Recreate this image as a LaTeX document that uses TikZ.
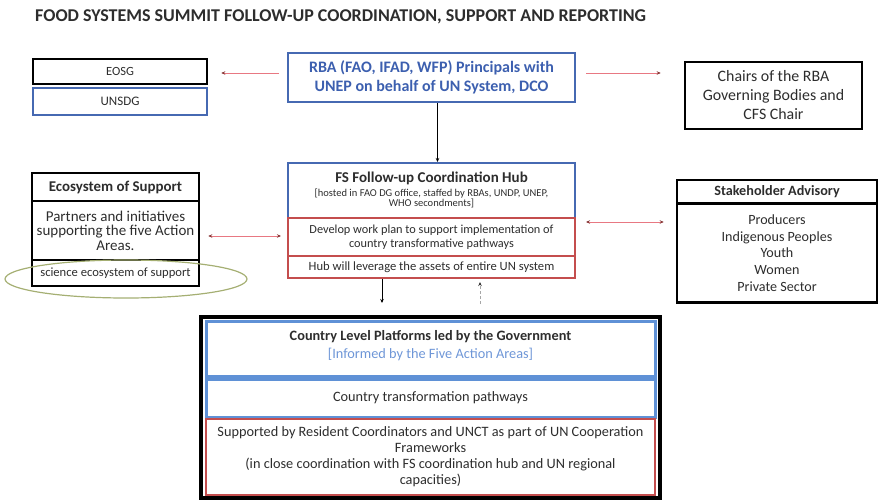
\documentclass[tikz,border=0pt]{standalone}
\usepackage{fontspec}
\setmainfont{Carlito}
\usetikzlibrary{arrows.meta,calc}
\definecolor{bluebd}{RGB}{70,105,178}
\definecolor{cblue}{RGB}{95,145,214}
\definecolor{redbd}{RGB}{196,78,78}
\definecolor{arrred}{RGB}{232,120,130}
\definecolor{olive}{RGB}{165,175,115}
\definecolor{txt}{RGB}{45,45,45}
\definecolor{rbatxt}{RGB}{60,95,175}
\definecolor{infotxt}{RGB}{110,150,215}
\begin{document}
\begin{tikzpicture}[x=1pt,y=-1pt,
  bx/.style={draw, line width=2pt, align=center, inner sep=0pt, text=txt},
  blk/.style={bx, draw=black, line width=2.5pt},
  blu/.style={bx, draw=bluebd},
  rd/.style={bx, draw=redbd},
  fbody/.style={font=\fontsize{14.3}{16}\selectfont},
  fhead/.style={font=\bfseries\fontsize{14.2}{15}\selectfont},
  redarr/.style={draw=arrred, line width=0.8pt, -{Stealth[length=4pt,width=3.5pt,color=redbd!70!black]}},
  redboth/.style={draw=arrred, line width=0.8pt, {Stealth[length=4pt,width=3.5pt,color=redbd!70!black]}-{Stealth[length=4pt,width=3.5pt,color=redbd!70!black]}},
  blkarr/.style={draw=black, line width=0.8pt, -{Stealth[length=4pt,width=3.5pt]}},
  grayarr/.style={draw=gray!70, line width=0.8pt, densely dashed, -{Stealth[length=4pt,width=3.5pt,color=black!80]}}
]
\useasboundingbox (0,0) rectangle (879,501);

% title
\node[anchor=west, inner sep=0pt, font=\bfseries\fontsize{18}{20}\selectfont, text=txt] (title) at (35,17)
  {FOOD SYSTEMS SUMMIT FOLLOW-UP COORDINATION, SUPPORT AND REPORTING};

% top row
\node[blk, minimum width=174pt, minimum height=25pt, font=\fontsize{12.5}{13}\selectfont] (eosg) at (120,71.5) {EOSG};
\node[blu, line width=2.5pt, minimum width=174pt, minimum height=27pt, font=\fontsize{13}{13}\selectfont] (unsdg) at (120,101.5) {UNSDG};
\node[blu, minimum width=287pt, minimum height=49pt, text=rbatxt, font=\bfseries\fontsize{16}{19}\selectfont] (rba) at (431.5,77.5)
  {RBA (FAO, IFAD, WFP) Principals with\\UNEP on behalf of UN System, DCO};
\node[blk, minimum width=177pt, minimum height=67pt, font=\fontsize{15.9}{19}\selectfont] (chairs) at (773.5,95.5)
  {Chairs of the RBA\\Governing Bodies and\\CFS Chair};

\draw[redarr] ($(rba.west)+(-8,-4.5)$) -- ($(rba.west -| eosg.east)+(13,-4.5)$);
\draw[redarr] ($(rba.east)+(10,-4.5)$) -- ($(rba.east -| chairs.west)+(-23,-4.5)$);

% hub
\node[blu, minimum width=287pt, minimum height=55pt] (hubA) at (431.5,190.5) {};
\node[font=\bfseries\fontsize{15}{15}\selectfont, text=txt, inner sep=0pt] (hubT) at (431.5,178) {FS Follow-up Coordination Hub};
\node[font=\fontsize{10.5}{10.5}\selectfont, text=txt, align=center, inner sep=0pt] (hubS) at (431.5,198.5)
  {[hosted in FAO DG office, staffed by RBAs, UNDP, UNEP,\\WHO secondments]};
\node[rd, minimum width=287pt, minimum height=38pt, font=\fontsize{12.3}{14}\selectfont] (hubB) at (431.5,237)
  {Develop work plan to support implementation of\\country transformative pathways};
\node[rd, minimum width=287pt, minimum height=22pt, font=\fontsize{12.6}{14}\selectfont] (hubC) at (431.5,267)
  {Hub will leverage the assets of entire UN system};

\draw[blkarr] ($(rba.south)+(6,0)$) -- ($(hubA.north)+(6,0)$);

% ecosystem
\node[blk, minimum width=167pt, minimum height=28pt, font=\bfseries\fontsize{14.9}{15}\selectfont] (ecoA) at (115.5,187) {Ecosystem of Support};
\node[blk, minimum width=167pt, minimum height=59pt, font=\fontsize{15}{14.5}\selectfont] (ecoB) at (115.5,230.5)
  {Partners and initiatives\\supporting the five Action\\Areas.};
\node[blk, minimum width=167pt, minimum height=26pt, font=\fontsize{12.6}{12}\selectfont] (ecoC) at (115.5,273) {science ecosystem of support};
\draw[olive, line width=1.2pt] (126,279) ellipse [x radius=121, y radius=19];

\draw[redboth] ($(hubB.west)+(-6,-1)$) -- ($(hubB.west -| ecoB.east)+(8,-1)$);

% stakeholder
\node[blk, minimum width=200pt, minimum height=23pt, fhead] (stA) at (777,191.5) {Stakeholder Advisory};
\node[blk, minimum width=200pt, minimum height=99pt, font=\fontsize{14.1}{16.8}\selectfont] (stB) at (777,253)
  {Producers\\Indigenous Peoples\\Youth\\Women\\Private Sector};

\draw[redboth] ($(hubB.east)+(10,-15)$) -- ($(hubB.east -| stB.west)+(-12,-15)$);

% country level
\node[draw=black, line width=4pt, minimum width=459pt, minimum height=181pt, inner sep=0pt] (country) at (430.5,407.5) {};
\node[draw=cblue, line width=3pt, minimum width=449pt, minimum height=55pt, inner sep=0pt, align=center] (cA) at (430.5,348.5) {};
\node[font=\bfseries\fontsize{14.3}{15}\selectfont, text=txt, inner sep=0pt] (cAt) at (430.5,337) {Country Level Platforms led by the Government};
\node[font=\fontsize{14.3}{15}\selectfont, text=infotxt, inner sep=0pt] (cAs) at (430.5,354) {[Informed by the Five Action Areas]};
\node[draw=cblue, line width=3pt, minimum width=449pt, minimum height=38pt, inner sep=0pt, fbody, text=txt] (cB) at (430.5,398)
  {Country transformation pathways};
\node[rd, line width=2.5pt, minimum width=449pt, minimum height=76pt, font=\fontsize{14.3}{16}\selectfont] (cC) at (430.5,457)
  {Supported by Resident Coordinators and UNCT as part of UN Cooperation\\Frameworks\\(in close coordination with FS coordination hub and UN regional\\capacities)};

\draw[blkarr] ($(hubC.south)+(-49.5,0)$) -- ++(0,24);
\draw[grayarr] ($(hubC.south)+(48.5,25)$) -- ($(hubC.south)+(48.5,3)$);
\end{tikzpicture}
\end{document}
